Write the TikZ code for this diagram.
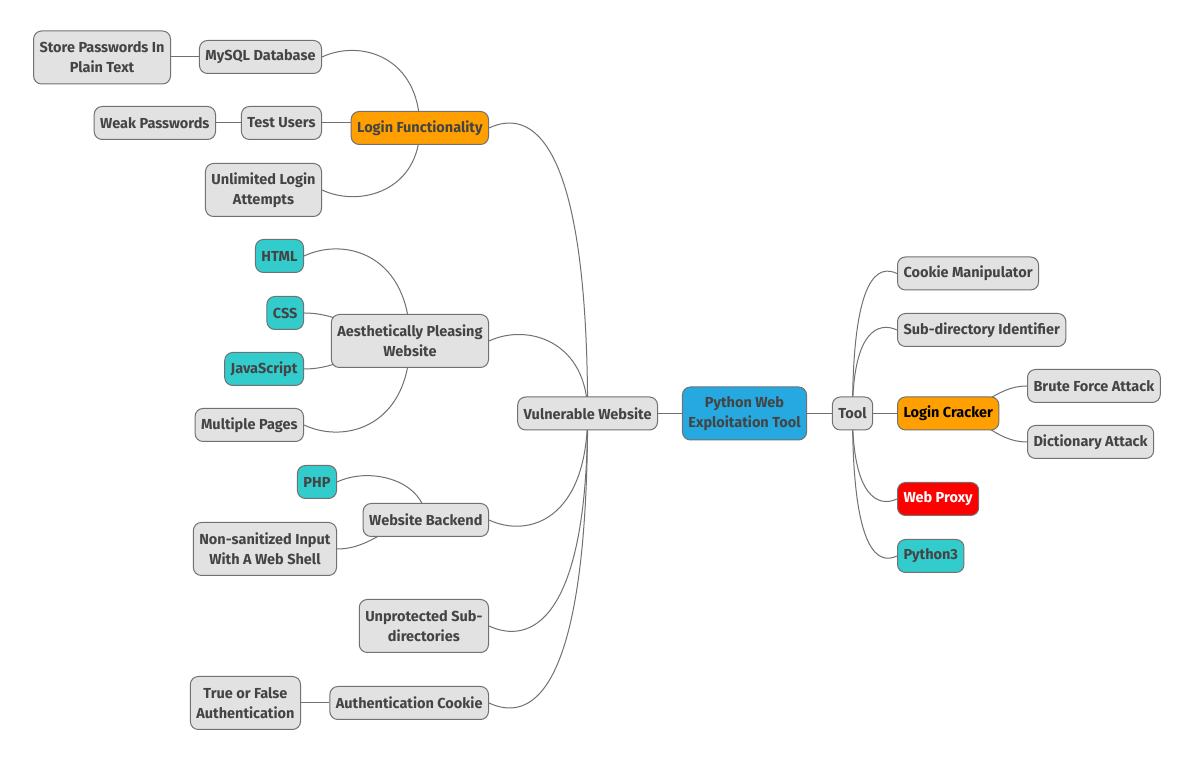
\documentclass[tikz,border=0pt]{standalone}
\usepackage{fontspec}
\setmainfont{Fira Sans}
\usetikzlibrary{backgrounds}
\definecolor{boxgray}{HTML}{E2E2E2}
\definecolor{edgegray}{HTML}{717171}
\definecolor{txtgray}{HTML}{444444}
\definecolor{mmorange}{HTML}{FFA000}
\definecolor{mmblue}{HTML}{25A9E0}
\definecolor{mmteal}{HTML}{33CCCC}
\definecolor{mmred}{HTML}{FF0000}

\begin{document}
\begin{tikzpicture}[x=1pt,y=1pt,
  topic/.style={draw=edgegray,line width=1pt,fill=boxgray,rounded corners=8pt,
    text=txtgray,font=\fontsize{14.5}{20}\selectfont\bfseries,align=center,
    inner xsep=6pt,inner ysep=3pt,minimum height=33pt},
  two/.style={minimum height=53pt},
  lang/.style={topic,fill=mmteal},
  hot/.style={topic,fill=mmorange},
  link/.style={draw=edgegray,line width=1pt},
  upleft/.style 2 args={out=90,in=25,out distance=#1pt,in distance=#2pt},
  downleft/.style 2 args={out=-90,in=-25,out distance=#1pt,in distance=#2pt},
  upright/.style 2 args={out=90,in=155,out distance=#1pt,in distance=#2pt},
  downright/.style 2 args={out=-90,in=205,out distance=#1pt,in distance=#2pt}]
 \useasboundingbox (0,0) rectangle (1200,762);
 \node[topic,two,anchor=east] (spt) at (171,704.5) {Store Passwords In\\Plain Text};
 \node[topic,anchor=east] (mysql) at (322,705) {MySQL Database};
 \node[topic,anchor=east] (weak) at (216,639) {Weak Passwords};
 \node[topic,anchor=east] (tu) at (322,639) {Test Users};
 \node[hot,anchor=east] (lf) at (489,634) {Login Functionality};
 \node[topic,two,anchor=east] (ula) at (322,572) {Unlimited Login\\Attempts};
 \node[lang,anchor=east] (html) at (304,506) {HTML};
 \node[lang,anchor=east] (css) at (304,449) {CSS};
 \node[topic,two,anchor=east] (apw) at (489,421) {Aesthetically Pleasing\\Website};
 \node[lang,anchor=east] (js) at (304,393) {JavaScript};
 \node[topic,anchor=east] (mp) at (304,337) {Multiple Pages};
 \node[lang,anchor=east] (php) at (337,280) {PHP};
 \node[topic,anchor=east] (wb) at (489,242) {Website Backend};
 \node[topic,two,anchor=east] (nsi) at (337,213) {Non-sanitized Input\\With A Web Shell};
 \node[topic,two,anchor=east] (usd) at (489,136) {Unprotected Sub-\\directories};
 \node[topic,two,anchor=east] (tfa) at (301,59) {True or False\\Authentication};
 \node[topic,anchor=east] (ac) at (489,59) {Authentication Cookie};
 \node[topic,anchor=east] (vw) at (658,348.5) {Vulnerable Website};
 \node[topic,two,fill=mmblue] (pwet) at (744.5,348.5) {Python Web\\Exploitation Tool};
 \node[topic] (tool) at (852.5,348.5) {Tool};
 \node[topic,anchor=west] (cm) at (897,488.5) {Cookie Manipulator};
 \node[topic,anchor=west] (sdi) at (897,432) {Sub-directory Identifier};
 \node[hot,text=black,anchor=west] (lc) at (897,348.5) {Login Cracker};
 \node[topic,anchor=west] (bfa) at (1027,376) {Brute Force Attack};
 \node[topic,anchor=west] (da) at (1027,320) {Dictionary Attack};
 \node[topic,fill=mmred,text=white,anchor=west] (wp) at (897,263) {Web Proxy};
 \node[lang,anchor=west] (py) at (897,206) {Python3};
 \begin{scope}[on background layer]
  \fill[white] (0,0) rectangle (1200,762);
  \draw[link] (pwet.west) -- (vw.east);
  \draw[link] (pwet.east) -- (tool.west);
  \draw[link] (vw.center) to[upleft={285}{43}] (lf.east);
  \draw[link] (vw.center) to[upleft={72}{43}] (apw.east);
  \draw[link] (vw.center) to[downleft={107}{43}] (wb.east);
  \draw[link] (vw.center) to[downleft={213}{43}] (usd.east);
  \draw[link] (vw.center) to[downleft={290}{43}] (ac.east);
  \draw[link] (lf.center) to[upleft={71}{43}] (mysql.east);
  \draw[link] (tu.east) -- (tu.east -| lf.west);
  \draw[link] (lf.center) to[downleft={62}{43}] (ula.east);
  \draw[link] (mysql.west) -- (mysql.west -| spt.east);
  \draw[link] (tu.west) -- (weak.east);
  \draw[link] (apw.center) to[upleft={85}{47}] (html.east);
  \draw[link] (apw.center) to[out=180,in=0] (css.east);
  \draw[link] (apw.center) to[out=180,in=0] (js.east);
  \draw[link] (apw.center) to[downleft={84}{47}] (mp.east);
  \draw[link] (wb.center) to[upleft={38}{39}] (php.east);
  \draw[link] (wb.center) to[out=180,in=0] (nsi.east);
  \draw[link] (ac.west) -- (tfa.east);
  \draw[link] (tool.center) to[upright={141}{20}] (cm.west);
  \draw[link] (tool.center) to[upright={84}{20}] (sdi.west);
  \draw[link] (tool.east) -- (lc.west);
  \draw[link] (tool.center) to[downright={85}{20}] (wp.west);
  \draw[link] (tool.center) to[downright={142}{20}] (py.west);
  \draw[link] (lc.center) to[out=0,in=180] (bfa.west);
  \draw[link] (lc.center) to[out=0,in=180] (da.west);
 \end{scope}
\end{tikzpicture}
\end{document}
